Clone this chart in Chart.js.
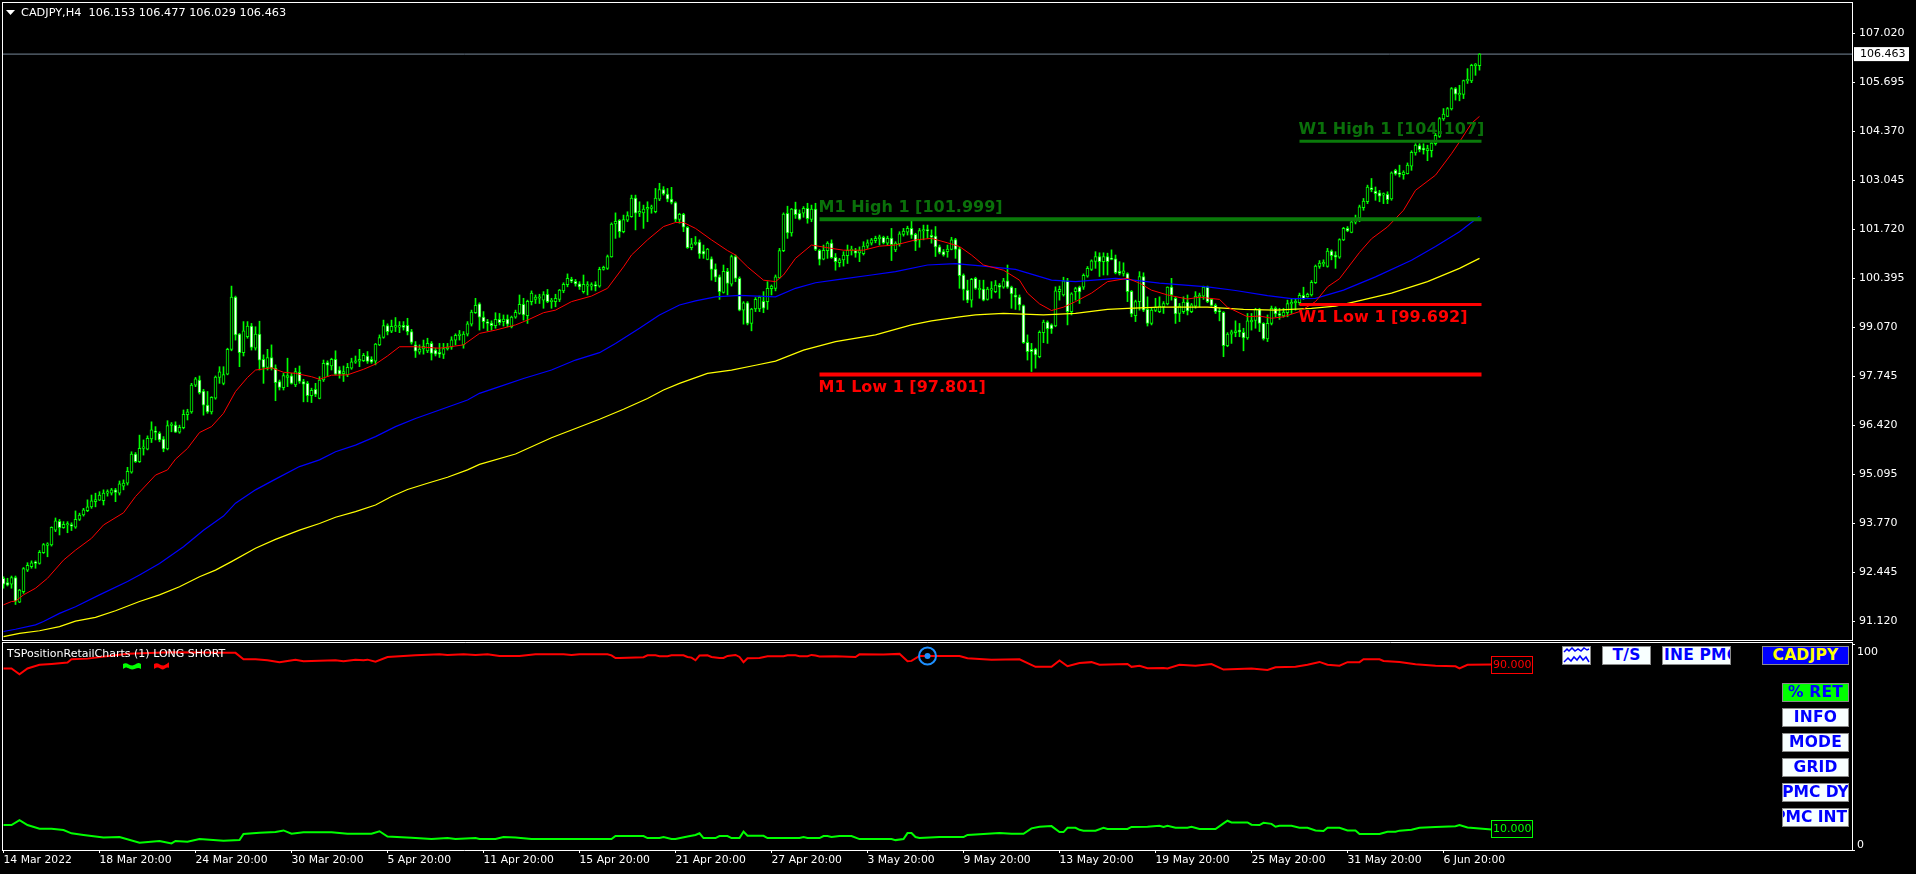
<!DOCTYPE html>
<html>
<head>
<meta charset="utf-8">
<title>CADJPY,H4</title>
<script src="https://cdn.jsdelivr.net/npm/chart.js@4"></script>
<style>
html,body{margin:0;padding:0;background:#000;width:1916px;height:874px;overflow:hidden}
canvas{position:absolute;left:0}
#main{top:0}
#sub{top:642px}
.t{position:absolute;color:#fff;font:11px "DejaVu Sans",sans-serif;white-space:pre;line-height:13px}
.b{position:absolute;box-sizing:border-box;height:19px;background:#f8ffff;border:1px solid #8a8a8a;color:#0000ff;font:bold 15.5px/17px "DejaVu Sans",sans-serif;letter-spacing:.2px;white-space:nowrap;overflow:hidden;display:flex;justify-content:center}
svg{position:absolute}
</style>
</head>
<body>
<canvas id="main" width="1916" height="641"></canvas>
<canvas id="sub" width="1916" height="232"></canvas>
<svg style="left:6px;top:10px" width="10" height="6"><path d="M0 0H9L4.5 5Z" fill="#fff"/></svg>
<div class="t" style="left:21px;top:6px;font-size:11.3px">CADJPY,H4  106.153 106.477 106.029 106.463</div>
<div class="t" style="left:7px;top:647px">TSPositionRetailCharts (1) LONG SHORT</div>
<svg style="left:123px;top:662px" width="46" height="9">
<path d="M0 2C4 -1 7 5 11 3S15 0 18 2V7C14 4 11 9 7 7S3 5 0 7Z" fill="#00ff00"/>
<path d="M31 2C35 -1 38 5 42 3S45 0 46 1V6C43 4 41 9 38 7S34 5 31 7Z" fill="#ff0000"/>
</svg>
<div class="b" style="left:1562px;top:646px;width:29px"><svg width="27" height="17" style="left:0;top:0"><path d="M1 5L4 2L6 4L9 1L12 4L15 2L18 4L21 1L24 3L26 2M1 15L5 11L8 14L11 10L14 13L17 9L20 13L23 10L26 15" fill="none" stroke="#0000ff" stroke-width="1.5"/></svg></div>
<div class="b" style="left:1602px;top:646px;width:49px">T/S</div>
<div class="b" style="left:1662px;top:646px;width:69px;justify-content:flex-start;padding-left:1px">INE PMC</div>
<div class="b" style="left:1762px;top:646px;width:87px;background:#0000ff;color:#ffff00">CADJPY</div>
<div class="b" style="left:1782px;top:683px;width:67px;background:#00ff00">% RET</div>
<div class="b" style="left:1782px;top:708px;width:67px">INFO</div>
<div class="b" style="left:1782px;top:733px;width:67px">MODE</div>
<div class="b" style="left:1782px;top:758px;width:67px">GRID</div>
<div class="b" style="left:1782px;top:783px;width:67px;letter-spacing:0">PMC DY</div>
<div class="b" style="left:1782px;top:808px;width:67px;justify-content:flex-end;padding-right:1px;letter-spacing:0">PMC INT</div>
<script>
const opens=[
92.29,92.17,92.13,92.31,91.64,91.93,92.51,92.60,92.72,92.69,
92.98,93.18,93.19,93.59,93.83,93.66,93.73,93.74,93.67,93.88,
94.00,94.12,94.22,94.36,94.40,94.39,94.59,94.59,94.68,94.59,
94.78,94.86,95.16,95.65,95.44,95.80,95.78,96.06,96.26,96.21,
96.05,95.79,96.42,96.43,96.24,96.36,96.71,96.79,97.51,97.65,
97.35,96.97,96.79,97.16,97.72,97.56,97.81,98.48,99.89,98.89,
98.39,98.82,99.11,98.51,98.89,98.21,97.99,98.26,97.97,97.61,
97.44,97.72,97.76,97.52,97.86,97.61,97.56,97.23,97.40,97.15,
97.65,98.12,98.03,98.21,97.92,97.82,97.79,97.97,98.13,98.16,
98.17,98.30,98.21,98.16,98.60,98.80,99.12,98.97,99.08,99.08,
99.13,99.13,98.96,98.60,98.40,98.49,98.44,98.64,98.46,98.40,
98.34,98.50,98.54,98.73,98.85,98.60,98.89,99.16,99.47,99.71,
99.35,99.21,99.19,99.12,99.29,99.23,99.30,99.09,99.35,99.45,
99.70,99.39,99.77,99.83,99.86,99.81,99.97,99.77,99.77,99.83,
100.06,100.23,100.37,100.32,100.25,100.04,100.19,100.19,100.22,100.19,
100.64,100.67,100.98,101.87,101.97,101.66,101.97,102.07,102.57,102.16,
102.17,102.27,102.29,102.20,102.54,102.80,102.68,102.54,102.45,101.99,
102.13,101.78,101.23,101.33,101.38,101.14,100.91,100.93,100.65,100.44,
100.02,100.59,100.24,100.99,100.40,99.54,99.74,99.18,99.57,99.57,
99.78,99.77,100.12,100.13,100.41,101.15,102.16,101.63,102.27,102.16,
102.16,102.29,101.99,102.27,101.16,100.92,101.15,101.35,100.97,100.82,
100.90,101.01,101.15,101.15,101.09,101.07,101.27,101.35,101.42,101.47,
101.51,101.35,101.49,101.17,101.33,101.59,101.65,101.75,101.59,101.44,
101.68,101.72,101.56,101.54,101.25,101.12,101.12,101.18,101.45,101.20,
100.49,100.08,99.81,100.40,100.09,100.11,99.83,100.08,100.04,100.21,
100.16,100.33,100.16,99.95,99.89,99.66,98.67,98.48,98.49,98.28,
98.93,99.22,99.14,99.11,100.04,99.95,100.33,99.50,100.04,100.16,
100.16,100.46,100.64,100.86,100.99,100.85,100.99,100.93,100.93,100.59,
100.53,100.53,100.05,99.39,99.77,100.45,99.56,99.18,99.53,99.50,
99.63,99.71,100.16,99.86,99.45,99.50,99.76,99.50,99.65,99.89,
99.92,100.16,99.83,99.67,99.52,99.48,98.58,98.89,98.93,99.00,
98.94,98.79,99.22,99.26,99.56,99.18,98.76,99.18,99.59,99.45,
99.38,99.47,99.71,99.74,99.74,99.94,99.90,99.95,100.28,100.72,
100.79,100.72,101.14,101.03,100.97,101.44,101.75,101.64,101.92,102.03,
102.31,102.47,102.85,102.76,102.71,102.65,102.67,102.55,103.32,103.23,
103.20,103.23,103.43,103.79,103.99,103.92,103.85,103.85,104.04,104.24,
104.71,104.78,104.98,105.53,105.36,105.37,105.74,105.74,106.15,106.153];
const closes=[
92.13,92.10,92.31,91.67,91.97,92.55,92.64,92.71,92.69,92.99,
93.20,93.20,93.67,93.84,93.66,93.75,93.74,93.70,93.88,94.00,
94.14,94.22,94.38,94.42,94.54,94.59,94.60,94.68,94.61,94.84,
94.86,95.18,95.65,95.44,95.80,95.82,96.07,96.30,96.23,96.03,
95.79,96.42,96.44,96.24,96.37,96.72,96.79,97.51,97.68,97.31,
96.97,96.79,97.18,97.73,97.87,97.80,98.48,99.89,98.87,98.39,
98.98,99.11,98.53,98.89,98.19,97.99,98.26,97.97,97.58,97.45,
97.77,97.77,97.56,97.88,97.61,97.54,97.23,97.37,97.26,97.65,
98.10,98.05,98.21,97.81,97.81,97.88,97.99,98.14,98.16,98.21,
98.32,98.15,98.13,98.62,98.80,99.12,98.96,99.10,99.10,99.11,
99.07,98.96,98.67,98.43,98.49,98.56,98.64,98.37,98.35,98.35,
98.50,98.54,98.74,98.86,98.89,98.89,99.17,99.49,99.67,99.35,
99.23,99.18,99.12,99.29,99.20,99.30,99.16,99.35,99.48,99.70,
99.41,99.78,100.00,99.89,99.89,99.96,99.77,99.78,99.86,100.08,
100.24,100.40,100.32,100.25,100.17,100.24,100.22,100.22,100.19,100.64,
100.70,100.99,101.87,101.94,101.66,101.99,102.10,102.57,102.16,102.21,
102.27,102.32,102.32,102.57,102.80,102.68,102.54,102.45,101.99,102.13,
101.78,101.23,101.33,101.38,101.06,101.05,101.19,100.64,100.43,100.04,
100.59,100.26,100.99,100.40,99.54,99.74,99.18,99.57,99.83,99.89,
99.59,100.13,100.19,100.44,101.15,102.14,101.63,102.27,102.12,102.00,
102.29,102.01,102.27,101.18,100.91,101.16,101.35,100.96,100.85,100.90,
101.03,101.16,101.16,101.08,101.15,101.27,101.36,101.44,101.48,101.52,
101.36,101.48,101.31,101.35,101.60,101.68,101.75,101.57,101.40,101.69,
101.72,101.68,101.51,101.25,101.10,101.03,101.19,101.44,101.18,100.47,
100.10,99.81,100.37,100.13,100.10,99.81,100.11,100.11,100.22,100.16,
100.33,100.16,99.98,99.89,99.68,98.66,98.42,98.42,98.33,98.94,
99.22,99.04,99.03,100.06,100.10,100.33,99.50,99.98,100.12,100.03,
100.48,100.67,100.87,100.99,100.85,100.99,100.85,100.91,100.55,100.53,
100.60,100.04,99.44,99.77,100.45,99.54,99.18,99.54,99.63,99.65,
99.72,100.16,99.95,99.44,99.65,99.76,99.52,99.68,99.92,99.95,
100.16,99.77,99.67,99.50,99.49,98.58,98.89,98.95,98.98,98.95,
98.79,99.25,99.27,99.56,99.18,98.76,99.18,99.59,99.44,99.40,
99.49,99.72,99.75,99.78,99.94,99.85,99.97,100.29,100.73,100.81,
100.81,101.14,101.01,100.97,101.45,101.75,101.68,101.93,101.96,102.33,
102.49,102.87,102.80,102.69,102.62,102.68,102.53,103.25,103.22,103.21,
103.27,103.46,103.81,104.00,103.88,103.87,103.91,104.06,104.27,104.72,
104.84,104.99,105.53,105.38,105.38,105.75,105.77,106.16,106.18,106.463];
const highs=[
92.33,92.29,92.35,92.35,91.99,92.58,92.71,92.76,92.76,93.04,
93.23,93.25,93.68,93.92,93.88,93.82,93.82,93.79,94.11,94.05,
94.18,94.41,94.54,94.59,94.63,94.68,94.68,94.72,94.72,94.92,
94.95,95.29,95.71,95.69,96.16,96.03,96.14,96.52,96.39,96.25,
96.12,96.55,96.50,96.52,96.43,96.84,96.86,97.56,97.72,97.76,
97.40,97.34,97.20,97.76,98.01,98.01,98.51,100.19,99.92,98.91,
99.23,99.23,99.18,99.09,99.24,98.33,98.48,98.60,98.06,97.65,
97.83,98.24,97.83,97.97,98.03,97.67,97.61,97.43,97.56,97.74,
98.19,98.17,98.24,98.44,98.01,98.03,98.10,98.24,98.30,98.48,
98.37,98.42,98.28,98.64,98.87,99.27,99.17,99.27,99.34,99.23,
99.23,99.32,99.02,98.69,98.60,98.73,98.78,98.69,98.51,98.64,
98.64,98.64,98.82,98.90,98.99,98.96,99.23,99.54,99.86,99.74,
99.50,99.29,99.25,99.47,99.45,99.41,99.41,99.38,99.54,99.95,
99.86,99.81,100.06,99.95,99.97,100.04,100.10,99.86,99.97,100.10,
100.28,100.52,100.43,100.37,100.31,100.49,100.31,100.28,100.31,100.70,
100.73,101.03,101.90,102.17,101.99,102.11,102.20,102.65,102.65,102.47,
102.38,102.47,102.38,102.83,102.97,102.88,102.83,102.86,102.47,102.16,
102.16,101.80,101.48,101.53,101.44,101.30,101.21,100.98,100.79,100.49,
100.76,100.67,101.03,101.03,100.44,99.77,99.77,99.59,99.88,99.92,
100.04,100.31,100.22,100.49,101.21,102.17,102.35,102.29,102.46,102.25,
102.34,102.43,102.38,102.43,101.18,101.30,101.39,101.44,101.07,100.94,
101.12,101.30,101.27,101.21,101.25,101.39,101.44,101.48,101.54,101.57,
101.54,101.54,101.75,101.39,101.66,101.75,101.81,101.95,101.62,101.75,
101.84,101.84,101.71,101.80,101.30,101.18,101.30,101.51,101.48,101.24,
100.52,100.35,100.40,100.43,100.35,100.35,100.16,100.31,100.34,100.26,
100.40,100.76,100.19,100.13,99.95,99.68,98.87,98.64,98.51,98.98,
99.27,99.25,99.17,100.17,100.19,100.43,100.40,100.01,100.16,100.19,
100.52,100.72,100.90,101.12,101.09,101.09,101.08,101.17,101.03,100.85,
100.82,100.55,100.07,99.81,100.58,100.55,99.90,99.59,99.86,99.90,
99.77,100.17,100.40,99.90,99.72,99.90,99.95,99.72,100.04,100.00,
100.19,100.19,99.86,99.71,99.59,99.50,98.93,99.00,99.25,99.18,
99.05,99.45,99.45,99.59,99.59,99.20,99.41,99.65,99.63,99.59,
99.59,99.81,99.86,99.86,100.00,100.16,100.00,100.34,100.76,100.88,
100.90,101.21,101.17,101.12,101.47,101.78,101.80,101.96,102.11,102.38,
102.56,102.92,103.10,102.87,102.78,102.71,102.74,103.28,103.35,103.46,
103.31,103.52,103.85,104.04,104.04,104.04,104.00,104.13,104.32,104.75,
104.99,105.02,105.56,105.56,105.62,105.76,106.07,106.19,106.21,106.477];
const lows=[
92.02,92.08,92.02,91.58,91.63,91.88,92.47,92.56,92.56,92.67,
92.96,92.87,93.16,93.55,93.46,93.64,93.52,93.58,93.64,93.85,
93.97,94.09,94.18,94.22,94.39,94.27,94.51,94.54,94.36,94.54,
94.68,94.81,95.13,95.42,95.42,95.62,95.76,95.96,96.03,95.98,
95.71,95.76,96.25,96.23,96.21,96.33,96.57,96.75,97.47,97.27,
96.70,96.75,96.73,97.13,97.56,97.52,97.79,98.44,98.73,98.01,
98.30,98.78,98.46,98.46,97.92,97.56,97.92,97.92,97.09,97.38,
97.38,97.47,97.54,97.47,97.56,97.06,97.06,97.04,97.20,97.14,
97.61,97.74,97.92,97.79,97.70,97.61,97.74,97.94,98.10,98.01,
98.15,98.10,98.10,98.06,98.58,98.78,98.87,98.93,98.96,98.93,
99.00,98.87,98.62,98.26,98.35,98.35,98.39,98.19,98.30,98.26,
98.23,98.46,98.48,98.60,98.73,98.51,98.84,99.11,99.45,99.00,
99.05,98.98,99.00,99.05,99.14,99.11,99.09,99.06,99.32,99.43,
99.27,99.18,99.68,99.72,99.72,99.59,99.74,99.59,99.63,99.77,
100.01,100.17,100.28,100.19,100.10,100.00,99.95,100.08,100.06,100.16,
100.62,100.64,100.97,101.48,101.51,101.63,101.93,102.05,101.71,102.07,
101.75,101.93,102.16,102.17,102.50,102.65,102.47,102.41,101.93,101.89,
101.66,101.21,101.17,101.30,100.94,100.94,100.90,100.35,100.31,99.83,
100.00,99.95,100.19,100.31,99.52,99.16,99.14,98.98,99.50,99.50,
99.47,99.56,99.95,100.06,100.40,101.12,101.48,101.54,102.02,101.98,
102.05,101.89,101.93,101.15,100.76,100.90,100.94,100.94,100.62,100.71,
100.73,100.80,101.03,100.97,100.85,101.03,101.21,101.30,101.36,101.30,
101.33,101.30,100.88,101.12,101.27,101.54,101.57,101.48,101.15,101.24,
101.44,101.48,101.35,100.99,101.06,101.00,100.97,101.17,100.94,100.13,
99.81,99.74,99.62,100.10,99.86,99.79,99.81,99.86,100.01,99.86,
100.13,100.13,99.59,99.56,99.54,98.64,98.19,97.88,97.97,98.25,
98.66,98.64,98.91,99.09,99.81,99.92,99.14,99.41,99.81,99.72,
100.10,100.43,100.61,100.67,100.45,100.49,100.49,100.90,100.52,100.49,
100.46,99.77,99.36,99.23,99.54,99.50,99.11,99.14,99.50,99.47,
99.45,99.68,99.81,99.18,99.23,99.45,99.41,99.47,99.59,99.63,
99.83,99.74,99.65,99.45,99.25,98.28,98.55,98.64,98.82,98.82,
98.44,98.75,99.00,99.05,98.96,98.73,98.69,99.14,99.36,99.29,
99.35,99.36,99.45,99.54,99.68,99.83,99.89,99.92,100.26,100.67,
100.72,100.70,100.90,100.67,100.94,101.42,101.66,101.63,101.87,101.93,
102.24,102.42,102.74,102.51,102.47,102.42,102.42,102.51,103.19,103.14,
103.08,103.22,103.32,103.73,103.82,103.76,103.58,103.68,104.00,104.21,
104.67,104.77,104.95,105.22,105.20,105.26,105.67,105.69,105.89,106.029];

const redMaBars=[0,2,3,5,8,11,15,18,22,25,30,33,38,41,43,46,49,52,55,58,61,63,67,70,73,77,79,82,86,90,93,96,99,103,109,115,119,123,128,131,135,138,142,147,151,155,157,161,165,168,170,173,177,181,183,186,190,193,195,198,202,207,210,215,219,223,228,232,236,239,242,245,250,254,256,259,262,265,268,272,276,281,284,287,291,296,299,304,306,311,314,317,320,324,328,331,334,339,342,346,350,353,358,362,364,367,369];
const redMaValues=[91.57,91.66,91.67,91.84,92.02,92.29,92.78,93.05,93.37,93.73,94.06,94.50,95.08,95.22,95.51,95.80,96.23,96.39,96.75,97.34,97.72,97.92,97.98,97.86,97.83,97.74,97.67,97.78,97.79,97.94,98.08,98.30,98.55,98.55,98.51,98.60,98.91,99.00,99.14,99.27,99.47,99.54,99.77,99.92,100.13,100.71,101.03,101.44,101.80,101.91,101.91,101.75,101.44,101.15,101.03,100.71,100.35,100.31,100.49,100.94,101.30,101.21,101.16,101.16,101.27,101.30,101.44,101.48,101.36,101.26,101.03,100.76,100.62,100.35,100.00,99.71,99.53,99.62,99.77,100.00,100.31,100.40,100.27,100.08,99.95,99.84,99.89,99.83,99.62,99.36,99.38,99.32,99.36,99.50,99.77,100.17,100.39,101.10,101.47,101.79,102.24,102.78,103.19,103.77,104.09,104.59,104.78];
const blueMaBars=[0,3,8,10,14,18,24,31,34,39,45,50,55,58,63,68,74,79,83,88,93,98,103,109,116,119,124,130,137,143,149,153,159,164,169,173,178,184,193,198,203,209,217,223,231,238,245,253,262,268,278,281,289,301,308,316,322,328,335,343,352,358,364,369];
const blueMaValues=[90.85,90.91,91.03,91.12,91.34,91.52,91.84,92.20,92.38,92.69,93.14,93.59,93.97,94.32,94.68,94.97,95.31,95.49,95.71,95.89,96.12,96.39,96.61,96.84,97.11,97.29,97.47,97.69,97.92,98.19,98.39,98.64,99.05,99.41,99.68,99.79,99.90,99.94,99.90,100.13,100.28,100.37,100.49,100.58,100.76,100.80,100.73,100.64,100.35,100.31,100.40,100.37,100.27,100.17,100.07,99.93,99.85,99.86,100.08,100.44,100.89,101.26,101.66,102.08];
const yellowMaBars=[0,4,9,14,18,23,28,34,39,44,49,53,57,63,68,74,79,83,88,93,97,101,106,111,116,119,128,137,149,155,161,165,169,176,182,188,193,200,208,218,227,232,239,243,250,260,268,276,281,289,301,310,318,327,333,338,347,356,364,369];
const yellowMaValues=[90.71,90.80,90.87,90.98,91.13,91.23,91.41,91.66,91.84,92.06,92.33,92.51,92.74,93.10,93.34,93.59,93.77,93.94,94.09,94.27,94.50,94.69,94.86,95.02,95.22,95.37,95.65,96.09,96.59,96.86,97.15,97.38,97.56,97.83,97.92,98.05,98.16,98.46,98.69,98.87,99.14,99.25,99.36,99.41,99.45,99.41,99.45,99.56,99.59,99.62,99.62,99.56,99.54,99.59,99.65,99.77,100.00,100.31,100.67,100.94];

const levelNames=["M1 High 1 [101.999]","M1 Low 1 [97.801]","W1 High 1 [104.107]","W1 Low 1 [99.692]"];
const levelValues=[101.999,97.801,104.107,99.692];
const levelStartBars=[204,204,324,324];
const levelEndBar=369.5;
const lastPrice=106.463;
const priceTicks=[107.02,105.695,104.37,103.045,101.72,100.395,99.07,97.745,96.42,95.095,93.77,92.445,91.12];

const shortLineBars=[0,2,4,6,9,12,16,17,21,31,42,56,58,60,63,66,69,71,73,75,83,85,88,90,91,93,96,103,109,111,115,118,121,124,129,133,140,142,144,146,151,152,153,154,160,161,163,164,166,167,170,171,172,173,174,176,177,179,180,181,183,184,185,186,189,191,195,196,198,199,201,202,203,204,208,213,214,220,224,226,227,229,239,241,247,254,258,262,264,266,269,272,274,281,282,284,286,290,291,294,298,302,305,312,316,318,323,326,329,331,334,336,339,340,344,345,349,353,358,363,364,366,372];
const shortLineValues=[88.1,88.1,85.3,88.1,89.9,90.3,91.0,92.6,92.9,95.3,96.0,95.7,95.7,92.6,92.6,92.1,91.2,91.8,92.4,91.6,92.1,91.6,92.4,92.1,92.4,91.4,93.7,94.5,95.0,94.7,95.0,94.7,95.0,94.2,94.2,95.0,95.0,94.7,95.0,95.0,95.0,94.5,93.2,93.2,93.6,94.5,94.5,94.1,94.1,94.5,94.5,93.7,93.4,92.1,94.4,94.5,93.7,93.2,93.2,94.2,94.7,93.7,91.2,93.1,93.2,94.1,94.1,94.5,94.5,94.1,94.1,94.7,94.4,93.9,94.0,93.7,95.0,94.9,95.2,91.6,91.8,94.2,94.2,93.1,92.4,92.6,88.9,88.9,92.0,89.2,90.8,91.2,89.9,90.3,88.9,89.4,88.2,88.4,88.1,89.9,89.5,90.3,87.6,88.1,87.4,88.7,89.0,89.9,91.3,89.9,89.5,91.2,91.2,92.6,92.6,91.8,91.3,90.2,89.5,89.2,88.2,89.9,90.0];
const longLineBars=[0,2,4,6,9,12,15,17,20,25,29,34,39,42,43,46,49,55,59,60,64,68,70,72,75,80,82,86,92,94,96,102,107,111,113,118,119,123,125,128,132,139,152,153,160,161,164,165,167,168,171,173,174,175,178,179,181,182,184,185,186,190,191,199,200,201,204,205,206,207,209,212,214,222,223,225,226,227,228,229,234,240,241,244,249,252,255,257,259,262,264,265,266,268,269,270,273,275,276,281,282,286,289,290,291,293,296,297,299,303,305,306,307,311,312,314,315,317,318,319,322,324,326,328,330,331,334,336,338,339,344,346,348,349,352,354,358,363,364,366,372];
const longLineValues=[12.1,12.1,14.5,12.1,10.3,10.3,9.7,8.1,7.3,6.1,6.3,3.5,4.4,3.2,4.4,4.0,5.3,4.5,4.8,7.8,8.4,8.7,9.5,7.9,8.6,8.6,8.6,7.9,7.9,9.1,6.5,6.0,5.3,5.8,5.3,5.8,5.3,5.3,6.3,6.1,5.3,5.3,5.3,6.8,6.8,5.8,5.8,6.3,5.3,5.3,6.6,7.3,8.1,5.8,5.8,6.8,6.8,5.8,5.8,8.9,6.9,6.9,5.8,5.8,6.3,5.8,5.8,6.8,6.8,6.3,6.8,6.8,5.3,5.3,4.8,5.3,8.2,8.2,6.3,5.8,6.3,6.3,7.3,7.6,8.2,7.9,7.9,10.5,11.3,11.6,8.7,8.7,10.8,10.8,9.8,9.4,9.4,10.8,10.2,10.2,11.2,11.3,11.8,11.2,11.8,10.8,10.8,11.3,10.2,10.2,12.9,14.2,13.4,13.4,12.3,12.1,13.2,12.7,11.3,11.8,11.8,10.8,10.8,9.5,9.2,10.8,10.8,9.5,9.5,7.8,7.8,8.9,8.9,9.4,9.8,10.8,11.2,11.5,12.1,10.9,10.0];
const markerBar=231, markerValue=94.2;
const tickBars=[0,24,48,72,96,120,144,168,192,216,240,264,288,312,336,360];
const dateLabels=["14 Mar 2022","18 Mar 20:00","24 Mar 20:00","30 Mar 20:00","5 Apr 20:00","11 Apr 20:00","15 Apr 20:00","21 Apr 20:00","27 Apr 20:00","3 May 20:00","9 May 20:00","13 May 20:00","19 May 20:00","25 May 20:00","31 May 20:00","6 Jun 20:00"];
const panelTickLabels=[{value:100,text:"100"},{value:0,text:"0"}];
const lineEndLabels=[{value:90,text:"90.000",color:"#ff0000"},{value:10,text:"10.000",color:"#00ff00"}];

const xMin=-0.375, xMax=462.125;
const AXIS_FONT='"DejaVu Sans",sans-serif';
const pts=(b,v)=>b.map((x,i)=>({x,y:v[i]}));
const noPad=s=>{s.paddingTop=0;s.paddingBottom=0;s.paddingLeft=0;s.paddingRight=0;};

const mainPlugin={id:'mainPlugin',
  beforeDraw(c){const x=c.ctx;x.fillStyle='#000';x.fillRect(0,0,c.width,c.height);},
  afterDraw(c){
    const x=c.ctx,a=c.chartArea,sx=c.scales.x,sy=c.scales.y;
    x.save();
    x.strokeStyle='#fff';x.lineWidth=1;
    x.strokeRect(a.left+.5,a.top+.5,a.right-a.left,a.bottom-a.top);
    x.font='bold 16px "DejaVu Sans",sans-serif';x.textBaseline='middle';x.textAlign='left';
    levelNames.forEach((n,i)=>{
      const above=i===0||i===2;
      x.fillStyle=above?'#0a700a':'#ff0000';
      x.fillText(n,sx.getPixelForValue(levelStartBars[i])-1,sy.getPixelForValue(levelValues[i])+(above?-11:13));
    });
    const py=sy.getPixelForValue(lastPrice);
    x.fillStyle='#fff';x.fillRect(a.right+2,py-7,55,14);
    x.fillStyle='#000';x.font='11px '+AXIS_FONT;
    x.fillText(lastPrice.toFixed(3),a.right+8,py+.5);
    x.restore();
  }};
const subPlugin={id:'subPlugin',
  beforeDraw(c){const x=c.ctx;x.fillStyle='#000';x.fillRect(0,0,c.width,c.height);},
  afterDraw(c){
    const x=c.ctx,a=c.chartArea,sx=c.scales.x,sy=c.scales.y;
    x.save();
    x.strokeStyle='#fff';x.lineWidth=1;
    x.beginPath();x.moveTo(a.left+.5,.5);x.lineTo(a.right+1,.5);
    x.moveTo(a.left+.5,0);x.lineTo(a.left+.5,a.bottom);
    x.moveTo(a.right+.5,0);x.lineTo(a.right+.5,a.bottom);x.stroke();
    x.font='11px '+AXIS_FONT;x.textBaseline='middle';x.textAlign='left';
    lineEndLabels.forEach(l=>{
      const px=Math.round(sx.getPixelForValue(372)),py=Math.round(sy.getPixelForValue(l.value));
      x.fillStyle='#000';x.fillRect(px-1,py-8,41,16);
      x.strokeStyle=l.color;x.strokeRect(px-.5,py-8.5,41,17);
      x.fillStyle=l.color;x.fillText(l.text,px+1,py+.5);
    });
    x.fillStyle='#fff';
    x.save();x.beginPath();x.rect(a.right+1,a.top,60,a.bottom-a.top+1);x.clip();
    panelTickLabels.forEach(t=>{
      const py=sy.getPixelForValue(t.value);
      x.fillText(t.text,a.right+5,py+(t.value===100?8:-5));
    });
    x.restore();
    x.restore();
  }};

new Chart(document.getElementById('main'),{
  data:{datasets:[
    {type:'line',label:'M1 High',data:[{x:levelStartBars[0],y:levelValues[0]},{x:levelEndBar,y:levelValues[0]}],borderColor:'#0a7a0a',borderWidth:4,pointRadius:0,order:0},
    {type:'line',label:'M1 Low',data:[{x:levelStartBars[1],y:levelValues[1]},{x:levelEndBar,y:levelValues[1]}],borderColor:'#ff0000',borderWidth:4,pointRadius:0,order:0},
    {type:'line',label:'W1 High',data:[{x:levelStartBars[2],y:levelValues[2]},{x:levelEndBar,y:levelValues[2]}],borderColor:'#0a7a0a',borderWidth:3,pointRadius:0,order:0},
    {type:'line',label:'W1 Low',data:[{x:levelStartBars[3],y:levelValues[3]},{x:levelEndBar,y:levelValues[3]}],borderColor:'#ff0000',borderWidth:3,pointRadius:0,order:0},
    {type:'line',label:'MA fast',data:pts(redMaBars,redMaValues),borderColor:'#ff0000',borderWidth:1,pointRadius:0,order:1},
    {type:'line',label:'MA mid',data:pts(blueMaBars,blueMaValues),borderColor:'#0000ff',borderWidth:1.2,pointRadius:0,order:1},
    {type:'line',label:'MA slow',data:pts(yellowMaBars,yellowMaValues),borderColor:'#ffff00',borderWidth:1.2,pointRadius:0,order:1},
    {type:'bar',label:'Body',data:opens.map((o,i)=>({x:i,y:[o,closes[i]]})),barThickness:3,minBarLength:1.5,
      backgroundColor:opens.map((o,i)=>closes[i]<o?'#ffffff':'#000000'),borderColor:'#00ff00',borderWidth:1,borderSkipped:false,order:2},
    {type:'bar',label:'Wick',data:highs.map((h,i)=>({x:i,y:[lows[i],h]})),barThickness:1,backgroundColor:'#00ff00',borderWidth:0,order:3},
    {type:'line',label:'Last',data:[{x:xMin,y:lastPrice},{x:xMax,y:lastPrice}],borderColor:'#778899',borderWidth:1,pointRadius:0,order:4}
  ]},
  options:{
    responsive:false,animation:false,devicePixelRatio:1,
    layout:{autoPadding:false,padding:{top:2,bottom:1,left:2,right:0}},
    datasets:{bar:{grouped:false}},
    plugins:{legend:{display:false},tooltip:{enabled:false}},
    scales:{
      x:{type:'linear',display:false,offset:false,grid:{offset:false},min:xMin,max:xMax,bounds:'data',afterFit:noPad},
      y:{type:'linear',position:'right',min:90.62,max:107.872,bounds:'data',
        afterBuildTicks:s=>{s.ticks=priceTicks.map(v=>({value:v}));},
        afterFit:s=>{s.width=64;noPad(s);},
        border:{display:true,color:'#fff'},
        grid:{drawOnChartArea:false,drawTicks:true,tickLength:3,tickColor:'#fff'},
        ticks:{color:'#fff',padding:4,autoSkip:false,font:{family:AXIS_FONT,size:11},callback:v=>Number(v).toFixed(3)}
      }
    }
  },
  plugins:[mainPlugin]
});

new Chart(document.getElementById('sub'),{
  data:{datasets:[
    {type:'line',label:'marker dot',data:[{x:markerBar,y:markerValue}],pointRadius:3,pointBackgroundColor:'#1e90ff',pointBorderWidth:0,showLine:false,order:0},
    {type:'line',label:'marker ring',data:[{x:markerBar,y:markerValue}],pointRadius:8.5,pointBackgroundColor:'rgba(0,0,0,0)',pointBorderColor:'#1e90ff',pointBorderWidth:2,showLine:false,order:0},
    {type:'line',label:'LONG',data:pts(longLineBars,longLineValues),borderColor:'#00ff00',borderWidth:2,pointRadius:0,order:1},
    {type:'line',label:'SHORT',data:pts(shortLineBars,shortLineValues),borderColor:'#ff0000',borderWidth:2,pointRadius:0,order:1}
  ]},
  options:{
    responsive:false,animation:false,devicePixelRatio:1,
    layout:{autoPadding:false,padding:{top:2,bottom:0,left:2,right:0}},
    plugins:{legend:{display:false},tooltip:{enabled:false}},
    scales:{
      x:{type:'linear',position:'bottom',min:xMin,max:xMax,bounds:'data',
        afterBuildTicks:s=>{s.ticks=tickBars.map(v=>({value:v}));},
        afterFit:s=>{s.height=24;noPad(s);},
        border:{display:true,color:'#fff',dash:[2,2]},
        grid:{drawOnChartArea:false,drawTicks:true,tickLength:3,tickColor:'#fff'},
        ticks:{color:'#fff',align:'start',padding:1,autoSkip:false,maxRotation:0,minRotation:0,font:{family:AXIS_FONT,size:10.8},
          callback:(v,i)=>dateLabels[i]}
      },
      y:{type:'linear',position:'right',min:0,max:100,bounds:'data',
        afterBuildTicks:s=>{s.ticks=panelTickLabels.map(t=>({value:t.value})).reverse();},
        afterFit:s=>{s.width=64;noPad(s);},
        border:{display:false},
        grid:{drawOnChartArea:false,drawTicks:true,tickLength:3,tickColor:'#fff'},
        ticks:{display:true,color:'#fff',callback:()=>'' }
      }
    }
  },
  plugins:[subPlugin]
});
</script>
</body>
</html>
